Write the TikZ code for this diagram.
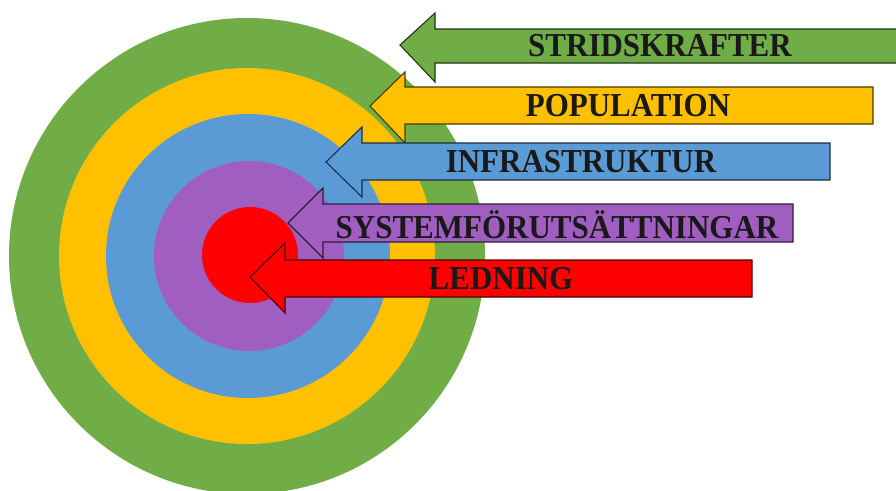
\documentclass[tikz,border=0pt]{standalone}
\usepackage{fontspec}
\setmainfont{Liberation Serif}
\definecolor{cgreen}{HTML}{70AD47}
\definecolor{cyellow}{HTML}{FFC000}
\definecolor{cblue}{HTML}{5B9BD5}
\definecolor{cpurple}{HTML}{A05EC0}
\definecolor{cred}{HTML}{FF0000}
\tikzset{
  arrowshape/.style={line width=1.1pt, line join=miter},
  lbl/.style={font=\fontsize{31}{31}\selectfont\bfseries, text=black!90, inner sep=0pt, anchor=center, yscale=1.08}
}
\newcommand{\bigarrow}[8]{% color, tipx, tipy, headx, headtop, headbot, shafttop, shaftbot ; right in \arrowright
  \fill[#1] (#2,#3) -- (#4,#5) -- (#4,#7) -- (\arrowright,#7) -- (\arrowright,#8) -- (#4,#8) -- (#4,#6) -- cycle;
  \draw[arrowshape, draw=#1!30!black] (#2,#3) -- (#4,#5) -- (#4,#7) -- (\arrowright,#7) -- (\arrowright,#8) -- (#4,#8) -- (#4,#6) -- cycle;
}
\begin{document}
\begin{tikzpicture}[x=1pt,y=-1pt]
\useasboundingbox (0,0) rectangle (896,490);
\clip (0,0) rectangle (896,490);
\fill[white] (0,0) rectangle (896,490);
% target
\fill[cgreen]  (247,256) circle (238);
\fill[cyellow] (247,256) circle (188);
\fill[cblue]   (248,256) circle (142);
\fill[cpurple] (249,256) circle (95);
\fill[cred]    (250,255) circle (48);
% arrows
\def\arrowright{905}
\bigarrow{cgreen}{400}{45}{435}{13}{82}{29}{63}
\def\arrowright{873}
\bigarrow{cyellow}{370}{106}{405}{72}{143}{87}{124}
\def\arrowright{830}
\bigarrow{cblue}{326}{162}{362}{127}{197}{143}{180}
\def\arrowright{793}
\bigarrow{cpurple}{288}{223}{323}{188}{258}{204}{242}
\def\arrowright{752}
\bigarrow{cred}{250}{277}{285}{243}{313}{260}{297}
% labels
\node[lbl] (t1) at (660,46) {STRIDSKRAFTER};
\node[lbl] (t2) at (628,106) {POPULATION};
\node[lbl] (t3) at (581,162) {INFRASTRUKTUR};
\node[lbl] (t4) at (557,225) {SYSTEMFÖRUTSÄTTNINGAR};
\node[lbl] (t5) at (501,279) {LEDNING};
\end{tikzpicture}
\end{document}
